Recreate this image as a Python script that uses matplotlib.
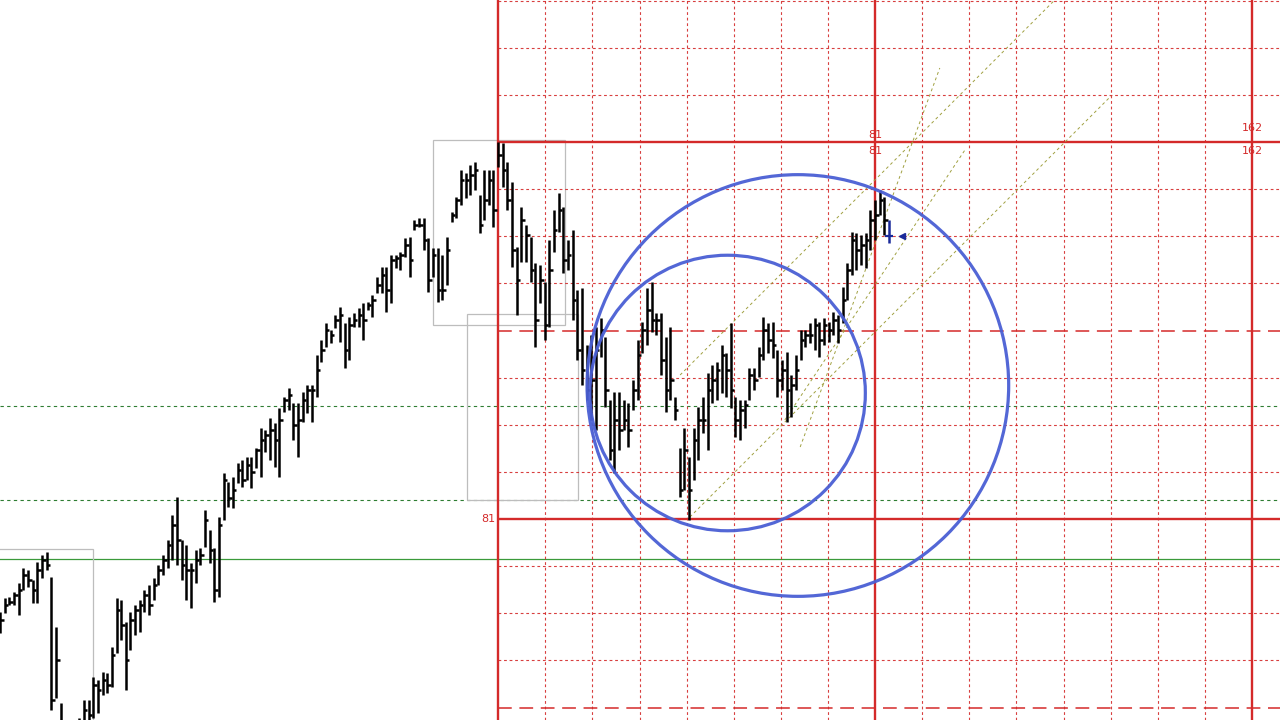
from matplotlib import pyplot as plt
from matplotlib.patches import Ellipse, Rectangle
import numpy as np

# bar highs / lows / closes (price points), one value per bar
highs = [108, 122, 123, 128, 137, 152, 150, 140, 158, 165, 168,
         143, 93, 17, -2, -5, -8, 2, 20, 20, 43,
         40, 48, 47, 73, 122, 120, 98, 108, 115, 120,
         130, 135, 142, 155, 165, 180, 205, 223, 180, 175,
         157, 170, 172, 210, 190, 172, 203, 247, 238, 243,
         257, 260, 263, 263, 272, 292, 290, 302, 297, 312,
         323, 332, 317, 317, 328, 335, 335, 365, 380, 397,
         390, 405, 413, 397, 403, 407, 412, 417, 418, 425,
         443, 453, 453, 465, 465, 468, 482, 483, 500, 502,
         502, 482, 472, 472, 465, 483, 508, 523, 550, 547,
         555, 558, 525, 550, 550, 550, 578, 577, 558, 538,
         473, 513, 495, 483, 457, 455, 438, 480, 510, 527,
         513, 480, 490, 430, 432, 375, 385, 393, 402, 383,
         320, 328, 328, 320, 317, 340, 380, 398, 432, 438,
         407, 407, 383, 393, 323, 272, 292, 263, 292, 313,
         323, 347, 355, 358, 375, 367, 397, 323, 320, 320,
         352, 352, 373, 403, 397, 398, 370, 360, 368, 345,
         365, 390, 390, 397, 402, 398, 402, 398, 408, 405,
         433, 457, 488, 487, 485, 487, 510, 520, 530, 523]
lows = [87, 107, 115, 115, 105, 130, 133, 117, 117, 142, 150,
        10, 22, -25, -45, -50, -40, -35, -15, -5, 2,
        7, 25, 27, 33, 67, 80, 30, 70, 85, 88,
        108, 105, 120, 135, 145, 152, 160, 155, 140, 120,
        112, 137, 155, 173, 157, 118, 123, 200, 213, 212,
        237, 233, 240, 232, 252, 243, 268, 260, 253, 243,
        308, 310, 280, 263, 298, 307, 298, 323, 358, 373,
        377, 392, 378, 352, 360, 393, 393, 380, 410, 403,
        427, 427, 408, 417, 452, 450, 463, 443, 490, 493,
        470, 428, 443, 418, 420, 435, 498, 502, 515, 522,
        525, 530, 487, 500, 515, 493, 553, 533, 510, 453,
        405, 458, 458, 438, 373, 417, 380, 393, 468, 488,
        447, 450, 400, 360, 335, 320, 300, 290, 363, 313,
        260, 247, 270, 290, 273, 310, 320, 367, 375, 388,
        385, 345, 308, 320, 300, 223, 230, 200, 240, 260,
        287, 270, 317, 320, 327, 323, 312, 283, 280, 292,
        320, 330, 343, 360, 367, 362, 323, 330, 298, 303,
        330, 360, 373, 377, 370, 363, 375, 378, 385, 377,
        397, 420, 445, 450, 455, 452, 470, 480, 505, 485]
closes = [100, 115, 118, 125, 130, 145, 140, 130, 150, 160, 155,
          20, 60, -10, -20, -30, -15, -5, 10, 5, 35,
          30, 40, 35, 65, 110, 95, 60, 100, 110, 115,
          125, 115, 135, 150, 160, 175, 195, 180, 155, 150,
          150, 160, 165, 200, 170, 130, 195, 240, 222, 230,
          250, 240, 255, 248, 270, 280, 285, 290, 280, 300,
          320, 325, 295, 300, 320, 330, 330, 350, 370, 390,
          385, 400, 405, 370, 395, 400, 405, 400, 415, 420,
          435, 445, 430, 460, 462, 465, 475, 460, 495, 495,
          480, 440, 465, 430, 430, 470, 505, 520, 540, 540,
          545, 550, 495, 520, 540, 510, 565, 550, 520, 470,
          440, 500, 485, 450, 400, 440, 395, 450, 490, 510,
          460, 465, 420, 370, 350, 330, 340, 370, 390, 330,
          270, 300, 290, 300, 290, 330, 365, 390, 410, 400,
          400, 360, 330, 340, 310, 230, 270, 230, 280, 300,
          300, 330, 340, 350, 365, 350, 330, 300, 310, 315,
          345, 340, 365, 390, 380, 375, 340, 350, 330, 335,
          350, 380, 385, 385, 395, 380, 395, 390, 400, 390,
          420, 450, 480, 470, 475, 480, 500, 505, 520, 500]

# last (live) bar, drawn in blue
last_high, last_low, last_close = 500, 477, 484

# gann square: start bar, start price, size in bars and in points
sq_bar, sq_price = 107, 201
sq_bars, sq_points = 81, 377
square_labels = ['81', '162']

# horizontal levels (green)
green_dashed = [314, 220]
green_solid = [161]

# gray boxes: bar from, bar to, price from, price to
boxes_x0 = [-1.0, 93.0, 100.3]
boxes_x1 = [19.9, 121.4, 124.2]
boxes_y0 = [-10, 395, 220]
boxes_y1 = [171, 580, 406]

# circles: center bar, center price, radius in bars
circle_bar = [171.4, 156.3]
circle_price = [334.5, 327]
circle_radius = [45.3, 29.6]

# fan lines (dashed): start bar, start price, end bar, end price
fan_x0 = [146.1, 148.2, 171.9, 168.6]
fan_y0 = [345, 203, 273, 300]
fan_x1 = [226.6, 238.7, 201.9, 207.3]
fan_y1 = [720, 624, 652, 570]

RED = '#d42a2a'


def draw_grid(ax, x_max, y_min, y_max):
    step_x = sq_bars / 8
    step_y = sq_points / 8
    # vertical lines
    k = 0
    while sq_bar + k * step_x <= x_max:
        x = sq_bar + k * step_x
        if k % 8 == 0:
            ax.axvline(x, color=RED, lw=1.7, zorder=2)
        else:
            ax.axvline(x, color=RED, lw=0.8, ls=(0, (2.5, 2.5)), alpha=0.9, zorder=1)
        k += 1
    # horizontal lines, from the square to the right edge
    for k in range(-5, 12):
        y = sq_price + k * step_y
        if y < y_min or y > y_max:
            continue
        if k % 8 == 0:
            ax.hlines(y, sq_bar, x_max, color=RED, lw=1.7, zorder=2)
        elif k % 4 == 0:
            ax.hlines(y, sq_bar, x_max, color=RED, lw=1.1, linestyles=(0, (9, 5)), zorder=1)
        else:
            ax.hlines(y, sq_bar, x_max, color=RED, lw=0.8, linestyles=(0, (2.5, 2.5)), alpha=0.9, zorder=1)

    top = sq_price + sq_points
    for i, lab in enumerate(square_labels):
        x = sq_bar + (i + 1) * sq_bars
        dy = 7 if i == 0 else 14
        ax.text(x, top + dy, lab, color=RED, fontsize=8, ha='center', va='center', zorder=6)
        ax.text(x, top - 9, lab, color=RED, fontsize=8, ha='center', va='center', zorder=6)
    ax.text(sq_bar - 0.5, sq_price, square_labels[0], color=RED, fontsize=8,
            ha='right', va='center', zorder=6)


def draw_bars(ax):
    t = np.arange(len(highs))
    ax.vlines(t, lows, highs, color='black', lw=1.8, zorder=3)
    ax.hlines(closes, t, t + 0.75, color='black', lw=1.8, zorder=3)
    # live bar
    n = len(highs)
    ax.vlines(n, last_low, last_high, color='#1a2a9a', lw=1.8, zorder=3)
    ax.hlines(last_close, n - 0.9, n + 0.9, color='#1a2a9a', lw=1.6, zorder=3)
    ax.plot([n + 2.8], [last_close], marker='<', ms=5, color='#1a2a9a', zorder=3)
    ax.hlines(last_close, n + 2.8, n + 3.6, color='#1a2a9a', lw=1.4, zorder=3)


if __name__ == '__main__':
    fig = plt.figure(figsize=(12.8, 7.2), dpi=100)
    ax = fig.add_axes([0, 0, 1, 1])
    x_max = 275.0
    ax.set_xlim(-0.04, x_max)
    ax.set_ylim(0, 720)
    ax.axis('off')

    for y in green_dashed:
        ax.axhline(y, color='#2e7d32', lw=0.8, ls=(0, (3, 3)), zorder=1)
    for y in green_solid:
        ax.axhline(y, color='#3a9a3a', lw=0.9, zorder=1)

    for x0, x1, y0, y1 in zip(boxes_x0, boxes_x1, boxes_y0, boxes_y1):
        ax.add_patch(Rectangle((x0, y0), x1 - x0, y1 - y0, fill=False,
                               ec='#bdbdbd', lw=0.9, zorder=1))

    draw_grid(ax, x_max, 0, 720)

    for x0, y0, x1, y1 in zip(fan_x0, fan_y0, fan_x1, fan_y1):
        ax.plot([x0, x1], [y0, y1], color='#a0a040', lw=0.7, ls=(0, (3, 3)), zorder=2)

    draw_bars(ax)

    pts_per_bar = sq_points / sq_bars
    for cx, cy, r in zip(circle_bar, circle_price, circle_radius):
        ax.add_patch(Ellipse((cx, cy), 2 * r, 2 * r * pts_per_bar, fill=False,
                             ec='#4a5fd4', lw=2.3, alpha=0.95, zorder=4))

    fig.savefig('out.png', dpi=100, facecolor='white')
